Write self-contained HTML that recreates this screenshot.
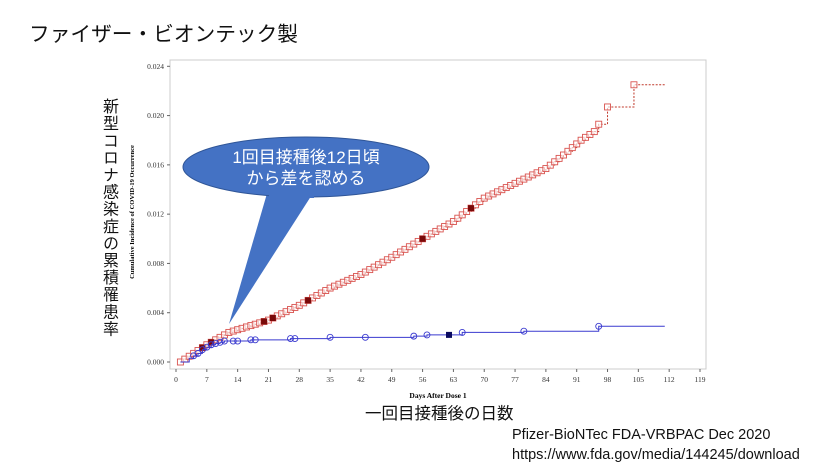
<!DOCTYPE html>
<html><head><meta charset="utf-8"><style>
body{margin:0;width:831px;height:468px;background:#fff;overflow:hidden;position:relative;font-family:"Liberation Sans","Noto Sans CJK JP",sans-serif}
.t{position:absolute;white-space:nowrap;color:#111}
</style></head><body>
<div class="t" style="left:29px;top:17px;font-size:20.7px">ファイザー・ビオンテック製</div>
<div class="t" style="left:99px;top:98px;font-size:16px;writing-mode:vertical-rl;letter-spacing:1.1px;line-height:18px">新型コロナ感染症の累積罹患率</div>
<div class="t" style="left:365px;top:400px;font-size:16.5px">一回目接種後の日数</div>
<div class="t" style="left:512px;top:425px;font-size:14.5px;line-height:20px">Pfizer-BioNTec FDA-VRBPAC Dec 2020<br>https://www.fda.gov/media/144245/download</div>
<svg id="s" width="831" height="468" style="position:absolute;left:0;top:0" font-family="Liberation Serif, serif"></svg>
<script>
const s=document.getElementById('s');let h='';
const X=d=>176+d*524/119, Y=v=>362-v*295.7/0.024;
h+='<rect x="170" y="60" width="536" height="309" fill="none" stroke="#ccc" stroke-width="1"/>';
for(let d=0;d<=119;d+=7){h+=`<line x1="${X(d)}" y1="369" x2="${X(d)}" y2="372" stroke="#666"/><text x="${X(d)}" y="382" font-size="7.5" text-anchor="middle" fill="#333">${d}</text>`}
for(let i=0;i<=6;i++){let v=i*0.004;h+=`<line x1="167" y1="${Y(v)}" x2="170" y2="${Y(v)}" stroke="#666"/><text x="164" y="${Y(v)+2.5}" font-size="7.5" text-anchor="end" fill="#333">${v.toFixed(3)}</text>`}
h+='<text x="438" y="398" font-size="7.5" font-weight="bold" text-anchor="middle">Days After Dose 1</text>';
h+='<text transform="translate(134,212) rotate(-90)" font-size="6.5" font-weight="bold" text-anchor="middle">Cumulative Incidence of COVID-19 Occurrence</text>';
const rk=[[1,0],[7,0.0014],[12,0.0024],[21,0.0034],[28,0.0046],[35,0.006],[42,0.0071],[49,0.0085],[56,0.01],[63,0.0114],[70,0.0133],[77,0.0145],[84,0.0157],[88,0.0168],[92,0.018],[95,0.0187]];
let rp=[];
for(let i=0;i<rk.length-1;i++){let[a,va]=rk[i],[b,vb]=rk[i+1];let n=Math.round((b-a)*0.95);for(let j=0;j<n;j++){let t=j/n;rp.push([a+(b-a)*t,va+(vb-va)*t])}}
rp.push([95,0.0187],[96,0.0193],[98,0.0207],[104,0.0225]);
let path=`M${X(rp[0][0])},${Y(rp[0][1])}`;
for(let i=1;i<rp.length;i++){path+=`H${X(rp[i][0])}V${Y(rp[i][1])}`}
path+=`H${X(111)}`;
h+=`<path d="${path}" fill="none" stroke="#c0392b" stroke-width="1" stroke-dasharray="2,1.5"/>`;
const filled=[6,8,20,22,30,56,67];
rp.forEach(p=>h+=`<rect x="${X(p[0])-3}" y="${Y(p[1])-3}" width="6" height="6" fill="#fff" fill-opacity="0.6" stroke="#d9534f" stroke-width="0.9"/>`);
filled.forEach(d=>{let p=rp.reduce((a,b)=>Math.abs(b[0]-d)<Math.abs(a[0]-d)?b:a);h+=`<rect x="${X(p[0])-3}" y="${Y(p[1])-3}" width="6" height="6" fill="#7a0a0a"/>`});
const bp=[[1,0],[3,0.0003],[4,0.0005],[5,0.0007],[6,0.001],[7,0.0012],[8,0.0014],[9,0.0015],[10,0.0016],[11,0.0017],[13,0.0017],[14,0.0017],[17,0.0018],[18,0.0018],[26,0.0019],[27,0.0019],[35,0.002],[43,0.002],[54,0.0021],[57,0.0022],[62,0.0022],[65,0.0024],[79,0.0025],[96,0.0029]];
let bpath=`M${X(1)},${Y(0)}`;bp.forEach(p=>bpath+=`H${X(p[0])}V${Y(p[1])}`);bpath+=`H${X(111)}`;
h+=`<path d="${bpath}" fill="none" stroke="#3a3acf" stroke-width="1"/>`;
bp.slice(2).forEach(p=>{if(p[0]==62)h+=`<rect x="${X(62)-3}" y="${Y(p[1])-3}" width="6" height="6" fill="#0a0a60"/>`;else h+=`<circle cx="${X(p[0])}" cy="${Y(p[1])}" r="3" fill="none" stroke="#3a3acf" stroke-width="0.9"/>`});
h+='<path d="M268,190 L229,324 L315,190 Z" fill="#4472c4"/>';
h+='<ellipse cx="306" cy="167" rx="123" ry="30" fill="#4472c4" stroke="#2f5597" stroke-width="1"/>';
h+='<path d="M269,194 L314,194" stroke="#4472c4" stroke-width="8"/>';
h+='<text x="306" y="163" font-size="17" fill="#fff" text-anchor="middle" font-family="Liberation Sans, Noto Sans CJK JP, sans-serif">1回目接種後12日頃</text>';
h+='<text x="306" y="184" font-size="17" fill="#fff" text-anchor="middle" font-family="Liberation Sans, Noto Sans CJK JP, sans-serif">から差を認める</text>';
s.innerHTML=h;
</script>
</body></html>
